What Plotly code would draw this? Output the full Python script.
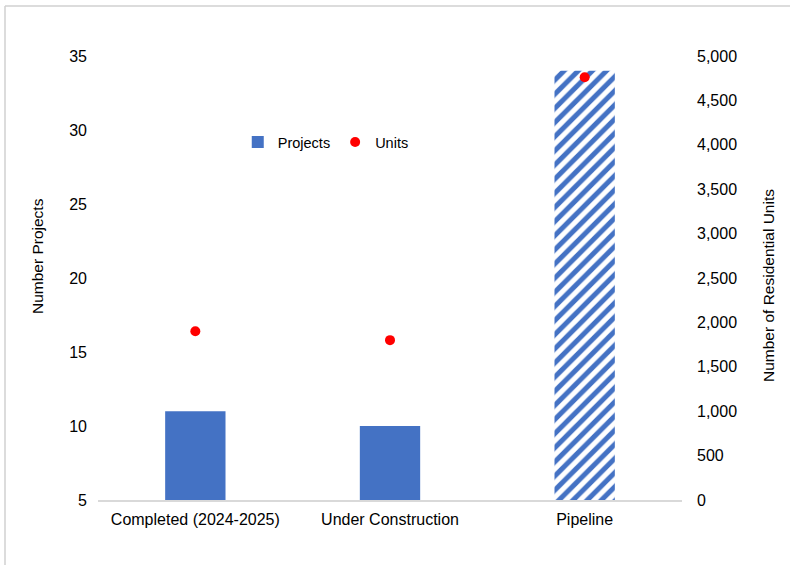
import plotly.graph_objects as go

categories = ["Completed (2024-2025)", "Under Construction", "Pipeline"]
projects = [11, 10, 34]
units = [1900, 1800, 4760]
left_ticks = [5, 10, 15, 20, 25, 30, 35]
right_ticks = [0, 500, 1000, 1500, 2000, 2500, 3000, 3500, 4000, 4500, 5000]

BLUE = "#4472C4"
FONT = "Liberation Sans, Arial, sans-serif"

solid_cats = categories[:2]
solid_vals = projects[:2]
hatch_cats = categories[2:]
hatch_vals = projects[2:]

fig = go.Figure()
fig.add_trace(go.Bar(
    x=solid_cats, y=[p - 5 for p in solid_vals], base=5, name="Projects",
    marker=dict(color=BLUE, line=dict(width=0)),
    width=0.31, yaxis="y", showlegend=True, legendrank=1,
))
fig.add_trace(go.Bar(
    x=hatch_cats, y=[p - 5 for p in hatch_vals], base=5, name="Projects",
    marker=dict(color="white", line=dict(width=0),
                pattern=dict(shape="/", fgcolor=BLUE, bgcolor="white",
                             size=10, solidity=0.5, fillmode="overlay", fgopacity=1)),
    width=0.31, yaxis="y", showlegend=False,
))
fig.add_trace(go.Scatter(
    x=categories, y=units, mode="markers", name="Units",
    marker=dict(color="#FF0000", size=10), yaxis="y2", legendrank=2,
))

fig.update_layout(
    width=790, height=565,
    margin=dict(l=98, r=108, t=56, b=65),
    paper_bgcolor="white", plot_bgcolor="white",
    font=dict(family=FONT, size=16, color="#000000"),
    showlegend=True,
    barmode="overlay",
    legend=dict(orientation="h", x=0.39, y=0.806, xanchor="center", yanchor="middle",
                font=dict(size=14.5), bgcolor="rgba(0,0,0,0)",
                itemwidth=30, tracegroupgap=0),
    xaxis=dict(showline=True, linecolor="#D9D9D9", linewidth=1.5, ticks="",
               showgrid=False, tickfont=dict(size=16), ticklabelstandoff=4),
    yaxis=dict(range=[5, 35], tickvals=left_ticks, showgrid=False, zeroline=False,
               showline=False, ticks="", tickfont=dict(size=16), ticklabelstandoff=10),
    yaxis2=dict(range=[0, 5000], tickvals=right_ticks, tickformat=",",
                overlaying="y", side="right", showgrid=False, zeroline=False,
                showline=False, ticks="", tickfont=dict(size=16), ticklabelstandoff=14),
    annotations=[
        dict(text="Number Projects", textangle=-90, xref="paper", yref="paper",
             x=(38 - 98) / 584, y=(500 - 256) / 444, xanchor="center", yanchor="middle",
             showarrow=False, font=dict(size=15.5)),
        dict(text="Number of Residential Units", textangle=-90, xref="paper", yref="paper",
             x=(768 - 98) / 584, y=(500 - 286) / 444, xanchor="center", yanchor="middle",
             showarrow=False, font=dict(size=15.5)),
    ],
    shapes=[
        dict(type="line", xref="paper", yref="paper",
             x0=(5 - 98) / 584, x1=(790 - 98) / 584, y0=(500 - 6) / 444, y1=(500 - 6) / 444,
             line=dict(color="#D0D0D0", width=1.5)),
        dict(type="line", xref="paper", yref="paper",
             x0=(5 - 98) / 584, x1=(5 - 98) / 584, y0=(500 - 6) / 444, y1=(500 - 570) / 444,
             line=dict(color="#D0D0D0", width=1.5)),
    ],
)

fig.write_html("out.html")
